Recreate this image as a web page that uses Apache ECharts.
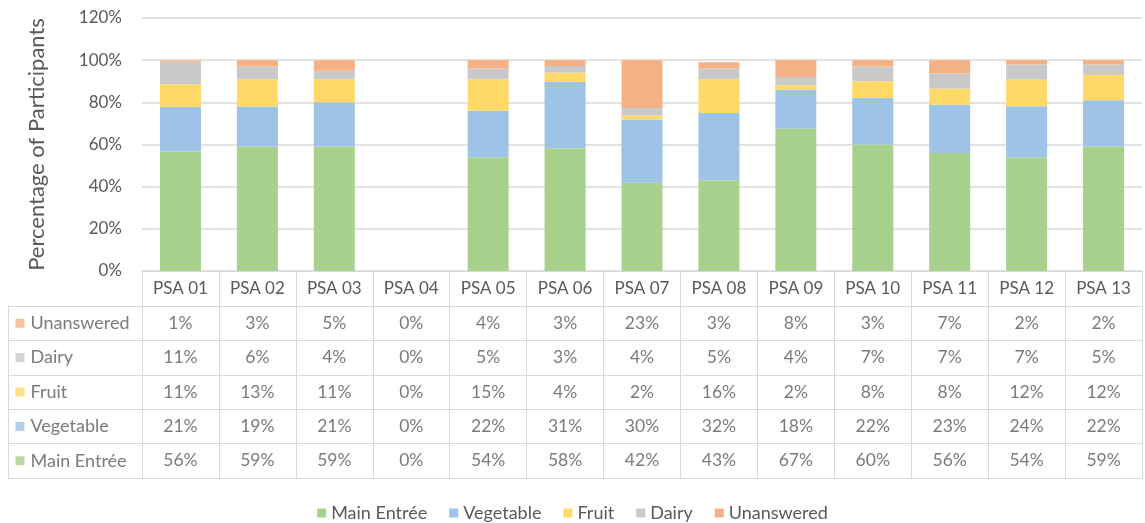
<!DOCTYPE html>
<html>
<head>
<meta charset="utf-8">
<script src="https://cdn.jsdelivr.net/npm/echarts@6/dist/echarts.min.js"></script>
<style>
  html, body { margin: 0; padding: 0; background: #fff; }
  #chart { width: 1145px; height: 523px; }
</style>
</head>
<body>
<div id="chart"></div>
<script>
var categories = ['PSA 01', 'PSA 02', 'PSA 03', 'PSA 04', 'PSA 05', 'PSA 06', 'PSA 07',
                  'PSA 08', 'PSA 09', 'PSA 10', 'PSA 11', 'PSA 12', 'PSA 13'];

// bar heights (unrounded)
var mainEntreeBar = [56.7, 59, 59, 0, 54, 58.2, 41.8, 43, 67.6, 60, 56, 54, 59];
var vegetableBar  = [21.1, 19, 21, 0, 22, 31.4, 30.1, 32, 18.3, 22, 22.9, 24.1, 22];
var fruitBar      = [10.8, 13, 11, 0, 15, 4.4, 1.9, 16, 2.2, 8, 7.6, 12.7, 12];
var dairyBar      = [10.6, 6, 4, 0, 5, 3.2, 3.5, 5, 3.9, 7, 7.2, 7.1, 5];
var unansweredBar = [0.8, 3, 5, 0, 4, 2.8, 22.7, 3, 8, 3, 6.3, 2.1, 2];

// rounded values printed in the data table
var mainEntree  = [56, 59, 59, 0, 54, 58, 42, 43, 67, 60, 56, 54, 59];
var vegetable   = [21, 19, 21, 0, 22, 31, 30, 32, 18, 22, 23, 24, 22];
var fruit       = [11, 13, 11, 0, 15,  4,  2, 16,  2,  8,  8, 12, 12];
var dairy       = [11,  6,  4, 0,  5,  3,  4,  5,  4,  7,  7,  7,  5];
var unanswered  = [ 1,  3,  5, 0,  4,  3, 23,  3,  8,  3,  7,  2,  2];

var yTicks = [0, 20, 40, 60, 80, 100, 120];

var groups = [
  { name: 'Main Entrée', bar: mainEntreeBar, data: mainEntree, color: '#A9D18E' },
  { name: 'Vegetable',   bar: vegetableBar,  data: vegetable,  color: '#9DC3E6' },
  { name: 'Fruit',       bar: fruitBar,      data: fruit,      color: '#FFD966' },
  { name: 'Dairy',       bar: dairyBar,      data: dairy,      color: '#C9C9C9' },
  { name: 'Unanswered',  bar: unansweredBar, data: unanswered, color: '#F4B183' }
];
var rowNames = groups.map(function (g) { return g.name; });

var font = 'Lato';
var txt = '#595959';
var line = '#D9D9D9';

var myChart = echarts.init(document.getElementById('chart'));

var series = [];
groups.forEach(function (g) {
  series.push({
    name: g.name,
    type: 'bar',
    stack: 'total',
    barWidth: 41,
    xAxisIndex: 0,
    yAxisIndex: 0,
    itemStyle: { color: g.color },
    data: g.bar
  });
});

// table cells
var cells = [];
groups.forEach(function (g) {
  g.data.forEach(function (v, i) {
    cells.push([categories[i], g.name, v]);
  });
});
series.push({
  name: 'cells',
  type: 'scatter',
  xAxisIndex: 1,
  yAxisIndex: 1,
  silent: true,
  symbolSize: 1,
  itemStyle: { color: 'rgba(0,0,0,0)' },
  label: {
    show: true,
    position: 'inside',
    color: txt,
    fontFamily: font,
    fontSize: 17.5,
    formatter: function (p) { return p.value[2] + '%'; }
  },
  data: cells
});

// row labels with colour keys
series.push({
  name: 'rows',
  type: 'scatter',
  xAxisIndex: 2,
  yAxisIndex: 2,
  silent: true,
  symbol: 'rect',
  symbolSize: 9,
  label: {
    show: true,
    position: 'right',
    distance: 6,
    color: txt,
    fontFamily: font,
    fontSize: 18,
    formatter: function (p) { return p.value[1]; }
  },
  data: groups.map(function (g) {
    return { value: [12, g.name], itemStyle: { color: g.color } };
  })
});

var option = {
  animation: false,
  backgroundColor: '#fff',
  textStyle: { fontFamily: font, color: txt },
  legend: {
    data: rowNames,
    left: 'center',
    top: 499,
    itemWidth: 9,
    itemHeight: 9,
    itemGap: 22,
    icon: 'rect',
    textStyle: { color: txt, fontFamily: font, fontSize: 18 }
  },
  grid: [
    { left: 142, right: 3, top: 18, height: 253 },
    { left: 142, right: 3, top: 306, height: 172 },
    { left: 8, width: 134, top: 306, height: 172 }
  ],
  xAxis: [
    {
      gridIndex: 0,
      type: 'category',
      data: categories,
      axisLine: { lineStyle: { color: line } },
      axisTick: { show: true, interval: 0, length: 35, lineStyle: { color: line } },
      axisLabel: { color: txt, fontFamily: font, fontSize: 17, margin: 9, interval: 0 }
    },
    {
      gridIndex: 1,
      type: 'category',
      data: categories,
      axisLine: { show: true, lineStyle: { color: line } },
      axisTick: { show: false },
      axisLabel: { show: false },
      splitLine: { show: true, interval: 0, lineStyle: { color: line } }
    },
    {
      gridIndex: 2,
      type: 'value',
      min: 0,
      max: 134,
      show: false
    }
  ],
  yAxis: [
    {
      gridIndex: 0,
      type: 'value',
      min: 0,
      max: 120,
      interval: 20,
      name: 'Percentage of Participants',
      nameLocation: 'middle',
      nameGap: 94,
      nameTextStyle: { color: txt, fontFamily: font, fontSize: 22 },
      axisLine: { show: false },
      axisTick: { show: false },
      axisLabel: {
        color: txt, fontFamily: font, fontSize: 17, margin: 20,
        formatter: function (v) { return yTicks.indexOf(v) >= 0 ? v + '%' : ''; }
      },
      splitLine: { lineStyle: { color: line, width: 1.5 } }
    },
    {
      gridIndex: 1,
      type: 'category',
      data: rowNames,
      axisLine: { show: true, lineStyle: { color: line } },
      axisTick: { show: false },
      axisLabel: { show: false },
      splitLine: { show: true, interval: 0, lineStyle: { color: line } }
    },
    {
      gridIndex: 2,
      type: 'category',
      data: rowNames,
      axisLine: { show: true, lineStyle: { color: line } },
      axisTick: { show: false },
      axisLabel: { show: false },
      splitLine: { show: true, interval: 0, lineStyle: { color: line } }
    }
  ],
  series: series
};

myChart.setOption(option);
</script>
</body>
</html>
